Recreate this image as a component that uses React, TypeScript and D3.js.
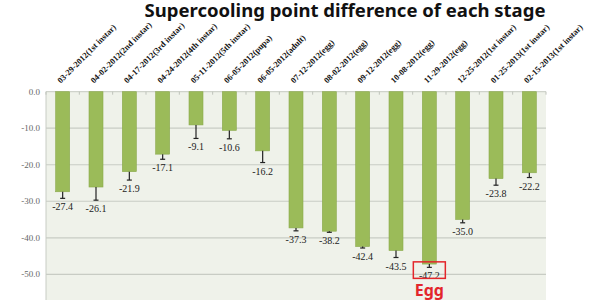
import React from "react";
import * as d3 from "d3";

const categories = [
  "03-29-2012(1st instar)",
  "04-02-2012(2nd instar)",
  "04-17-2012(3rd instar)",
  "04-24-2012(4th instar)",
  "05-11-2012(5th instar)",
  "06-05-2012(pupa)",
  "06-05-2012(adult)",
  "07-12-2012(egg)",
  "08-02-2012(egg)",
  "09-12-2012(egg)",
  "10-08-2012(egg)",
  "11-29-2012(egg)",
  "12-25-2012(1st instar)",
  "01-25-2013(1st instar)",
  "02-15-2013(1st instar)",
];
const values = [-27.4, -26.1, -21.9, -17.1, -9.1, -10.6, -16.2, -37.3, -38.2, -42.4, -43.5, -47.2, -35.0, -23.8, -22.2];
const errors = [1.8, 3.6, 2.3, 1.4, 3.7, 2.3, 3.2, 0.8, 0.3, 0.4, 1.9, 0.9, 0.9, 1.8, 1.3];
const yTicks = [0, -10, -20, -30, -40, -50];
const highlightIndex = 11;
const highlightLabel = "Egg";
const title = "Supercooling point difference of each stage";

export default function App() {
  const left = 46, right = 546, top = 91.7;
  const x = d3.scaleBand<string>().domain(categories).range([left, right]).paddingInner(0.58).paddingOuter(0.29);
  const y = d3.scaleLinear().domain([0, -50]).range([top, top + 182.6]);
  const bw = x.bandwidth();
  const boundaries = d3.range(categories.length + 1).map((i) => left + ((right - left) / categories.length) * i);

  return (
    <svg width={600} height={300} style={{ position: "absolute", left: 0, top: 0, background: "#fff" }}>
      <text x={345} y={17} textAnchor="middle" fontFamily="'Noto Sans', 'DejaVu Sans', sans-serif" fontWeight="bold" fontSize={18.5} fill="#111">
        {title}
      </text>
      <rect x={left} y={top} width={right - left} height={300 - top} fill="#eff2ea" />
      {yTicks.map((t) => (
        <g key={t}>
          <line x1={left} x2={right} y1={y(t)} y2={y(t)} stroke={t === 0 ? "#cfd3cb" : "#c8ccc4"} strokeWidth={1.2} />
          <text x={40} y={y(t) + 3} textAnchor="end" fontFamily="'Liberation Serif', 'Times New Roman', serif" fontSize={9} fill="#666">
            {t.toFixed(1)}
          </text>
        </g>
      ))}
      <line x1={left} x2={left} y1={top} y2={300} stroke="#c8ccc4" strokeWidth={1} />
      {boundaries.map((b, i) => (
        <line key={i} x1={b} x2={b} y1={top} y2={top + 3} stroke="#bfc3bb" strokeWidth={1} />
      ))}
      {categories.map((c, i) => {
        const v = values[i];
        const cx = (x(c) as number) + bw / 2;
        const ey = y(v - errors[i]);
        return (
          <g key={c}>
            <rect x={x(c)} y={y(0)} width={bw} height={y(v) - y(0)} fill="#9bbb59" stroke="#8aaa4c" strokeWidth={0.6} />
            <line x1={cx} x2={cx} y1={y(v)} y2={ey} stroke="#222" strokeWidth={1.2} />
            <line x1={cx - 2.5} x2={cx + 2.5} y1={ey} y2={ey} stroke="#222" strokeWidth={1.2} />
            <text x={cx} y={ey + 12} textAnchor="middle" fontFamily="'Liberation Serif', 'Times New Roman', serif" fontSize={10} fill="#222">
              {v.toFixed(1)}
            </text>
            <text
              transform={`translate(${cx - 2},${top - 8}) rotate(-45)`}
              fontFamily="'Liberation Serif', 'Times New Roman', serif"
              fontWeight="bold"
              fontSize={8.5}
              fill="#111"
            >
              {c}
            </text>
          </g>
        );
      })}
      {(() => {
        const c = categories[highlightIndex];
        const cx = (x(c) as number) + bw / 2;
        const ey = y(values[highlightIndex] - errors[highlightIndex]);
        return (
          <g>
            <rect x={cx - 16} y={ey - 5.5} width={32} height={16.5} fill="none" stroke="#e3262b" strokeWidth={1.5} />
            <text x={cx} y={296} textAnchor="middle" fontFamily="'Noto Sans', 'DejaVu Sans', sans-serif" fontWeight="bold" fontSize={16} fill="#e3262b">
              {highlightLabel}
            </text>
          </g>
        );
      })()}
    </svg>
  );
}
